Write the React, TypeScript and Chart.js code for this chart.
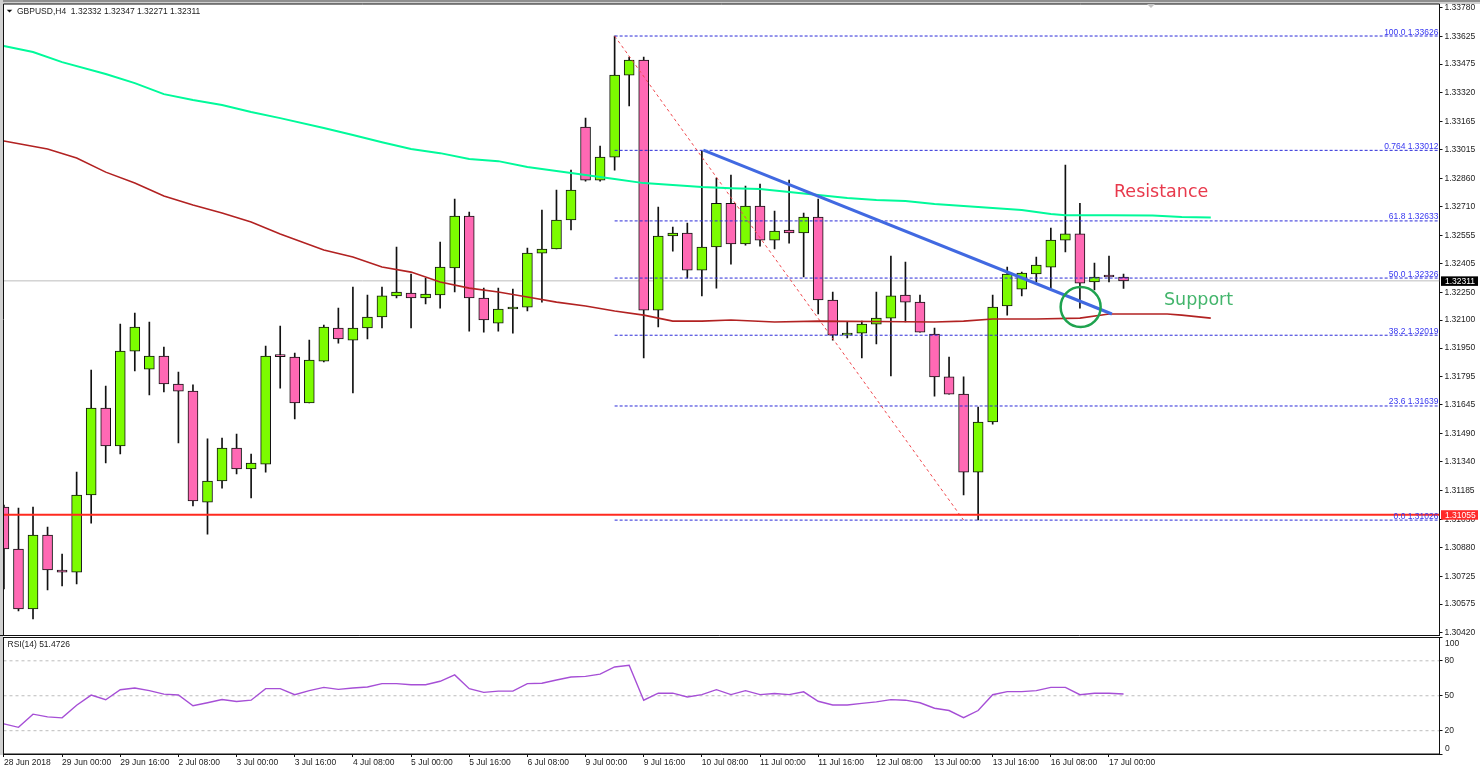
import React, { useEffect, useRef } from "react";
import { Chart, registerables } from "chart.js";

Chart.register(...registerables);

const FONT = '"Liberation Sans", Arial, sans-serif';
const FS = 8.5;

const xTickLabels = ["28 Jun 2018", "29 Jun 00:00", "29 Jun 16:00", "2 Jul 08:00", "3 Jul 00:00", "3 Jul 16:00", "4 Jul 08:00", "5 Jul 00:00", "5 Jul 16:00", "6 Jul 08:00", "9 Jul 00:00", "9 Jul 16:00", "10 Jul 08:00", "11 Jul 00:00", "11 Jul 16:00", "12 Jul 08:00", "13 Jul 00:00", "13 Jul 16:00", "16 Jul 08:00", "17 Jul 00:00"];
const priceTicks = [1.3378, 1.33625, 1.33475, 1.3332, 1.33165, 1.33015, 1.3286, 1.3271, 1.32555, 1.32405, 1.3225, 1.321, 1.3195, 1.31795, 1.31645, 1.3149, 1.3134, 1.31185, 1.3103, 1.3088, 1.30725, 1.30575, 1.3042];
const rsiTicks = [0, 20, 50, 80, 100];

const opens = [1.31096, 1.30871, 1.30549, 1.30946, 1.30758, 1.30747, 1.31161, 1.31628, 1.31424, 1.31934, 1.31837, 1.31907, 1.31757, 1.31719, 1.31123, 1.31236, 1.31413, 1.31301, 1.31327, 1.31907, 1.31902, 1.31655, 1.3188, 1.32058, 1.31993, 1.32058, 1.32117, 1.3223, 1.32246, 1.32219, 1.32235, 1.3238, 1.32659, 1.32219, 1.32084, 1.3216, 1.3217, 1.3246, 1.32482, 1.32638, 1.33137, 1.32852, 1.32976, 1.33416, 1.33497, 1.32154, 1.32552, 1.32568, 1.32369, 1.32493, 1.32728, 1.32509, 1.32713, 1.3253, 1.32584, 1.32568, 1.32654, 1.32208, 1.3202, 1.3203, 1.32079, 1.32111, 1.32235, 1.32197, 1.32025, 1.31795, 1.31703, 1.31284, 1.31553, 1.32176, 1.32267, 1.32348, 1.32385, 1.3253, 1.32563, 1.32305, 1.32342, 1.32332];
const highs = [1.31107, 1.31091, 1.31096, 1.30989, 1.30844, 1.31284, 1.31832, 1.31746, 1.32079, 1.32138, 1.3209, 1.31956, 1.31821, 1.31752, 1.31462, 1.31467, 1.31488, 1.31381, 1.31961, 1.32068, 1.31923, 1.31993, 1.32074, 1.32165, 1.32278, 1.32235, 1.32278, 1.32493, 1.32348, 1.32326, 1.32519, 1.3275, 1.32681, 1.32272, 1.32272, 1.32267, 1.32487, 1.32691, 1.32799, 1.32906, 1.33185, 1.33035, 1.33626, 1.33513, 1.33513, 1.32707, 1.326, 1.32622, 1.33008, 1.32863, 1.32879, 1.3282, 1.32831, 1.32686, 1.32852, 1.32675, 1.3275, 1.32251, 1.3209, 1.32095, 1.32251, 1.32444, 1.32412, 1.32235, 1.32058, 1.31902, 1.31795, 1.31633, 1.32235, 1.32385, 1.32358, 1.32439, 1.32595, 1.32933, 1.32728, 1.32407, 1.32444, 1.32347];
const lows = [1.30656, 1.30538, 1.30495, 1.30651, 1.30672, 1.30683, 1.3101, 1.31333, 1.31381, 1.31827, 1.31698, 1.31714, 1.3144, 1.31102, 1.30951, 1.31198, 1.31274, 1.31145, 1.31284, 1.31735, 1.31569, 1.31655, 1.31875, 1.31977, 1.31709, 1.31999, 1.32058, 1.32219, 1.32058, 1.32187, 1.32165, 1.32251, 1.32041, 1.32036, 1.32041, 1.3203, 1.32149, 1.32197, 1.32482, 1.32584, 1.32847, 1.32847, 1.32906, 1.3325, 1.31897, 1.32063, 1.32471, 1.32326, 1.3223, 1.32272, 1.32401, 1.32503, 1.32498, 1.32482, 1.32514, 1.32332, 1.32133, 1.31993, 1.32004, 1.31897, 1.31972, 1.318, 1.3209, 1.32036, 1.31692, 1.31703, 1.31161, 1.31027, 1.31542, 1.32127, 1.3223, 1.32305, 1.32272, 1.32466, 1.32165, 1.32262, 1.32305, 1.32271];
const closes = [1.30871, 1.30549, 1.30946, 1.30758, 1.30747, 1.31161, 1.31628, 1.31424, 1.31934, 1.32063, 1.31907, 1.31757, 1.31719, 1.31129, 1.31236, 1.31413, 1.31301, 1.31333, 1.31907, 1.31904, 1.31655, 1.31886, 1.32063, 1.31999, 1.32058, 1.32117, 1.3223, 1.32251, 1.32219, 1.3224, 1.32385, 1.32659, 1.32219, 1.32101, 1.3216, 1.3217, 1.3246, 1.32482, 1.32638, 1.32799, 1.32852, 1.32976, 1.33416, 1.33497, 1.32154, 1.32552, 1.32568, 1.32369, 1.32493, 1.32728, 1.32509, 1.32713, 1.3253, 1.32579, 1.32568, 1.32654, 1.32208, 1.3202, 1.3203, 1.32079, 1.32111, 1.3223, 1.32197, 1.32036, 1.31795, 1.31703, 1.31284, 1.31553, 1.3217, 1.32348, 1.32353, 1.32396, 1.3253, 1.32563, 1.32299, 1.32332, 1.32332, 1.32311];

const greenMaIndex = [0, 2, 4, 7, 9, 11, 13, 15, 17, 19, 22, 24, 26, 28, 30, 32, 34, 36, 38, 40, 42, 44, 46, 48, 50, 52, 54, 56, 58, 60, 62, 64, 66, 68, 70, 72, 73, 76, 79, 81, 83];
const greenMaValues = [1.33572, 1.3354, 1.33486, 1.33422, 1.33373, 1.33314, 1.33282, 1.33255, 1.33218, 1.33185, 1.33132, 1.33094, 1.33056, 1.33019, 1.32997, 1.32965, 1.32954, 1.32922, 1.32901, 1.32879, 1.32858, 1.32836, 1.32826, 1.32815, 1.32809, 1.32804, 1.32788, 1.32772, 1.32756, 1.32745, 1.3274, 1.32724, 1.32713, 1.32702, 1.32691, 1.3267, 1.32664, 1.32664, 1.32662, 1.32654, 1.32651];
const redMaIndex = [0, 3, 5, 7, 9, 11, 13, 15, 17, 19, 22, 24, 26, 28, 30, 32, 34, 36, 38, 40, 42, 44, 46, 48, 50, 53, 56, 60, 64, 66, 68, 71, 74, 76, 80, 81, 83];
const redMaValues = [1.33062, 1.33019, 1.32971, 1.32895, 1.32836, 1.32767, 1.32718, 1.32675, 1.32627, 1.32563, 1.32477, 1.32439, 1.32385, 1.32358, 1.32305, 1.32272, 1.32251, 1.32224, 1.32197, 1.32176, 1.32149, 1.32127, 1.32095, 1.32095, 1.32101, 1.3209, 1.32095, 1.32093, 1.3209, 1.32095, 1.32106, 1.32106, 1.32111, 1.32133, 1.32133, 1.32127, 1.32111];

const rsiValues = [25.8, 22.9, 34.2, 31.9, 31, 41.9, 50.6, 46.6, 55.2, 56.6, 54.4, 51.4, 50.6, 41.4, 44, 46.8, 45.1, 46.2, 56.1, 56.1, 50.9, 54.4, 57.2, 55.5, 56.6, 57.5, 60.4, 60.4, 59.5, 59.5, 62.4, 67.9, 56.1, 52.9, 54, 54, 60.4, 60.7, 63.5, 66.1, 66.6, 68.6, 74.7, 76.1, 46.2, 52.2, 52.2, 49, 51, 55.2, 51, 54.4, 51, 51.9, 51, 53.4, 45.3, 42.1, 42.1, 43.5, 44.7, 46.7, 46.2, 44, 39.3, 37.3, 31.2, 37.3, 50.9, 53.5, 53.5, 54.4, 57.2, 57.2, 50.9, 52.2, 52.2, 51.47];
const rsiGuides = [80, 50, 20];

const fibValues = [1.33626, 1.33012, 1.32633, 1.32326, 1.32019, 1.31639, 1.31026];
const fibLabels = ["100.0 1.33626", "0.764 1.33012", "61.8 1.32633", "50.0 1.32326", "38.2 1.32019", "23.6 1.31639", "0.0 1.31026"];
const fibStartIndex = 42;
const fibDiagonalIndex = [42, 66];
const fibDiagonalValues = [1.33626, 1.31026];
const trendIndex = [48.1, 76.2];
const trendValues = [1.33013, 1.32133];
const circleIndex = 74.05;
const circleValue = 1.32171;
const bidPrice = 1.32311;
const supportPrice = 1.31055;
const titleText = "GBPUSD,H4  1.32332 1.32347 1.32271 1.32311";
const rsiTitle = "RSI(14) 51.4726";

const X_MIN = -0.03;
const X_MAX = 98.73;
const idx = opens.map((_, i) => i);

const isUp = (i: number) => closes[i] > opens[i];
const PINK = "#ff69b4";
const LIME = "#7cfc00";

const hLine = (value: number, from: number, to: number, color: string, width: number, dash: number[], order: number) => ({
  type: "line",
  data: [{ x: from, y: value }, { x: to, y: value }],
  borderColor: color,
  borderWidth: width,
  borderDash: dash,
  pointRadius: 0,
  order,
});

const seriesLine = (xs: number[], ys: number[], color: string, width: number, dash: number[], order: number) => ({
  type: "line",
  data: xs.map((x, i) => ({ x, y: ys[i] })),
  borderColor: color,
  borderWidth: width,
  borderDash: dash,
  pointRadius: 0,
  tension: 0,
  order,
});

const mainDecor = {
  id: "mainDecor",
  beforeDraw(chart: any) {
    const c = chart.ctx;
    c.save();
    c.fillStyle = "#ffffff";
    c.fillRect(0, 0, chart.width, chart.height);
    c.fillStyle = "#8f8f8f";
    c.fillRect(0, 0, chart.width, 2);
    c.fillStyle = "#d0d0d0";
    c.fillRect(0, 2, chart.width, 2);
    c.fillRect(0, 0, 3, chart.height);
    c.restore();
  },
  afterDraw(chart: any) {
    const c = chart.ctx;
    const a = chart.chartArea;
    const y = chart.scales.y;
    c.save();
    c.strokeStyle = "#111";
    c.lineWidth = 1;
    c.beginPath();
    c.moveTo(a.left, a.bottom);
    c.lineTo(a.left, a.top);
    c.lineTo(a.right, a.top);
    c.stroke();
    c.fillStyle = "#c4c4c4";
    c.beginPath();
    c.moveTo(1147, 4);
    c.lineTo(1155, 4);
    c.lineTo(1151, 8);
    c.fill();
    c.strokeStyle = "#111";
    c.beginPath();
    c.moveTo(0, a.bottom + 0.5);
    c.lineTo(a.right, a.bottom + 0.5);
    c.stroke();

    c.font = `${FS}px ${FONT}`;
    c.textBaseline = "alphabetic";
    c.textAlign = "right";
    c.fillStyle = "#3636f0";
    fibValues.forEach((v, i) => c.fillText(fibLabels[i], a.right - 1, y.getPixelForValue(v) - 1.5));

    c.textAlign = "left";
    c.fillStyle = "#222";
    c.fillText(titleText, 17, 14);
    c.fillStyle = "#111";
    c.beginPath();
    c.moveTo(6.7, 9.7);
    c.lineTo(12.3, 9.7);
    c.lineTo(9.5, 12.5);
    c.fill();

    const box = (v: number, color: string) => {
      const p = y.getPixelForValue(v);
      c.fillStyle = color;
      c.fillRect(1441, p - 4.5, 37, 9.5);
      c.fillStyle = "#fff";
      c.fillText(v.toFixed(5), 1445, p + 3);
    };
    box(bidPrice, "#000");
    box(supportPrice, "#ff2a2a");

    c.font = `17.5px "DejaVu Sans", ${FONT}`;
    c.fillStyle = "#e8394c";
    c.fillText("Resistance", 1114, 197);
    c.fillStyle = "#43b56c";
    c.fillText("Support", 1164, 305);
    c.restore();
  },
};

const rsiDecor = {
  id: "rsiDecor",
  beforeDraw(chart: any) {
    const c = chart.ctx;
    c.save();
    c.fillStyle = "#d0d0d0";
    c.fillRect(0, 0, 3, chart.height - 17);
    c.restore();
  },
  afterDraw(chart: any) {
    const c = chart.ctx;
    const a = chart.chartArea;
    c.save();
    c.strokeStyle = "#111";
    c.lineWidth = 1;
    c.strokeRect(a.left, a.top, a.right - a.left, a.bottom - a.top);
    c.font = `${FS}px ${FONT}`;
    c.textBaseline = "middle";
    c.fillStyle = "#222";
    c.fillText(rsiTitle, 7.5, 9);
    c.fillText("100", 1445, 7.5);
    c.fillText("0", 1445, 112.5);
    c.restore();
  },
};

const fixedYWidth = (scale: any) => {
  scale.width = 40.5;
  scale.paddingTop = 0;
  scale.paddingBottom = 0;
};

export default function App() {
  const mainRef = useRef<HTMLCanvasElement>(null);
  const rsiRef = useRef<HTMLCanvasElement>(null);

  useEffect(() => {
    const main = new Chart(mainRef.current as HTMLCanvasElement, {
      type: "bar",
      data: {
        datasets: [
          {
            data: idx.map((i) => ({ x: i, y: [lows[i], highs[i]] })),
            backgroundColor: "#111",
            borderWidth: 0,
            barThickness: 1,
            order: 30,
          },
          {
            data: idx.map((i) => ({ x: i, y: [opens[i], closes[i]] })),
            backgroundColor: idx.map((i) => (isUp(i) ? LIME : PINK)),
            borderColor: "#111",
            borderWidth: 1,
            borderSkipped: false,
            barThickness: 10,
            minBarLength: 2,
            order: 29,
          },
          hLine(bidPrice, X_MIN, X_MAX, "#bdbdbd", 1, [], 31),
          ...fibValues.map((v) => hLine(v, fibStartIndex, X_MAX, "#2b2bd8", 1, [3, 2], 20)),
          seriesLine(fibDiagonalIndex, fibDiagonalValues, "#f0484e", 1, [3, 3], 19),
          seriesLine(greenMaIndex, greenMaValues, "#00fa9a", 2, [], 18),
          seriesLine(redMaIndex, redMaValues, "#b22222", 1.6, [], 17),
          hLine(supportPrice, X_MIN, X_MAX, "#ff2a1f", 2, [], 16),
          seriesLine(trendIndex, trendValues, "#4169e1", 3, [], 15),
          {
            type: "line",
            data: [{ x: circleIndex, y: circleValue }],
            showLine: false,
            pointRadius: 20,
            pointBorderWidth: 2.5,
            pointBorderColor: "#1fa34f",
            pointBackgroundColor: "rgba(0,0,0,0)",
            order: 14,
          },
        ],
      } as any,
      options: {
        responsive: false,
        animation: false,
        events: [],
        layout: { autoPadding: false, padding: { left: 3.5, top: 4, bottom: 1, right: 0 } },
        datasets: { bar: { grouped: false } },
        plugins: { legend: { display: false }, tooltip: { enabled: false }, title: { display: false } },
        scales: {
          x: { type: "linear", min: X_MIN, max: X_MAX, offset: false, display: false, grid: { offset: false } },
          y: {
            position: "right",
            min: 1.30409,
            max: 1.33798,
            afterFit: fixedYWidth,
            afterBuildTicks: (s: any) => {
              s.ticks = priceTicks.map((value) => ({ value }));
            },
            border: { color: "#111", width: 1 },
            grid: { drawOnChartArea: false, tickLength: 3, tickColor: "#111" },
            ticks: {
              autoSkip: false,
              padding: 2,
              color: "#222",
              font: { family: FONT, size: FS },
              callback: (v: any) => Number(v).toFixed(5),
            },
          },
        },
      } as any,
      plugins: [mainDecor],
    });

    const rsi = new Chart(rsiRef.current as HTMLCanvasElement, {
      type: "line",
      data: {
        datasets: [
          ...rsiGuides.map((v) => hLine(v, X_MIN, X_MAX, "#bcbcbc", 1, [3, 3], 5)),
          seriesLine(idx, rsiValues, "#a64fd6", 1.4, [], 1),
        ],
      } as any,
      options: {
        responsive: false,
        animation: false,
        events: [],
        layout: { autoPadding: false, padding: { left: 3.5, top: 1.5, bottom: 0, right: 0 } },
        plugins: { legend: { display: false }, tooltip: { enabled: false } },
        scales: {
          x: {
            type: "linear",
            min: X_MIN,
            max: X_MAX,
            afterFit: (s: any) => {
              s.height = 18;
              s.paddingLeft = 0;
              s.paddingRight = 0;
            },
            afterBuildTicks: (s: any) => {
              s.ticks = xTickLabels.map((_, i) => ({ value: i * 4 }));
            },
            border: { color: "#111" },
            grid: { drawOnChartArea: false, tickLength: 3, tickColor: "#111" },
            ticks: {
              autoSkip: false,
              maxRotation: 0,
              align: "start",
              padding: 1,
              color: "#222",
              font: { family: FONT, size: FS },
              callback: (v: any) => xTickLabels[Math.round(Number(v) / 4)],
            },
          },
          y: {
            position: "right",
            min: 0,
            max: 100,
            afterFit: fixedYWidth,
            afterBuildTicks: (s: any) => {
              s.ticks = rsiTicks.map((value) => ({ value }));
            },
            border: { color: "#111" },
            grid: { drawOnChartArea: false, tickLength: 3, tickColor: "#111" },
            ticks: {
              autoSkip: false,
              padding: 2,
              color: "#222",
              font: { family: FONT, size: FS },
              callback: (v: any) => (Number(v) === 0 || Number(v) === 100 ? "" : String(v)),
            },
          },
        },
      } as any,
      plugins: [rsiDecor],
    });

    return () => {
      main.destroy();
      rsi.destroy();
    };
  }, []);

  return (
    <div style={{ position: "absolute", left: 0, top: 0, width: 1480, height: 772, background: "#fff", overflow: "hidden" }}>
      <canvas ref={mainRef} width={1480} height={636} style={{ position: "absolute", left: 0, top: 0, display: "block" }} />
      <canvas ref={rsiRef} width={1480} height={136} style={{ position: "absolute", left: 0, top: 636, display: "block" }} />
    </div>
  );
}
